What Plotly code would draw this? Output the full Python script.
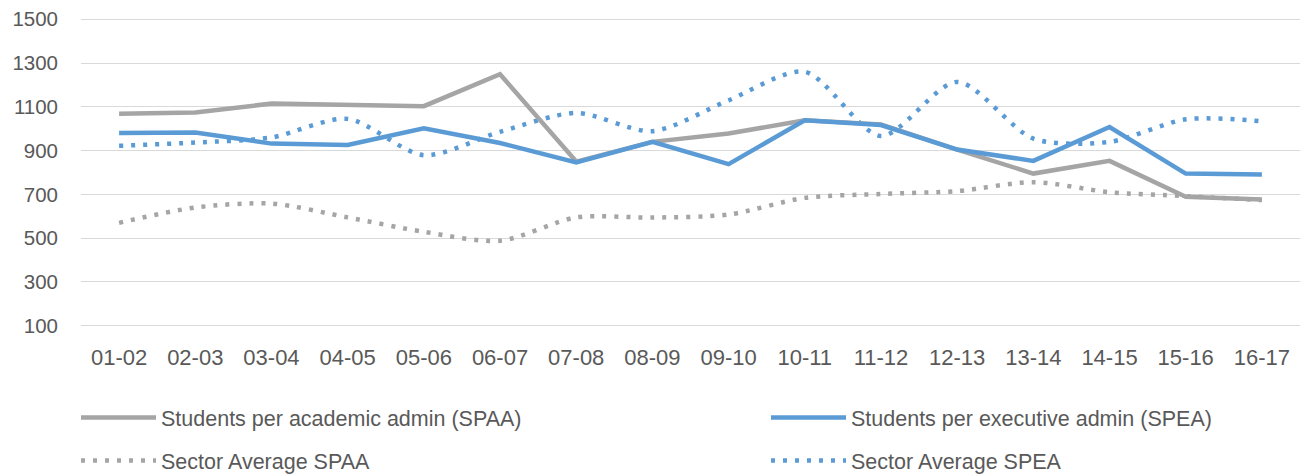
import plotly.graph_objects as go

years = ["01-02", "02-03", "03-04", "04-05", "05-06", "06-07", "07-08", "08-09",
         "09-10", "10-11", "11-12", "12-13", "13-14", "14-15", "15-16", "16-17"]
spaa = [1068, 1074, 1115, 1109, 1103, 1249, 850, 940, 978, 1039, 1020, 905, 795, 853, 689, 677]
spea = [981, 983, 932, 926, 1002, 935, 846, 940, 838, 1039, 1017, 905, 853, 1008, 795, 791]
sector_spaa = [570, 640, 658, 595, 529, 488, 595, 594, 608, 684, 702, 715, 756, 710, 692, 674]
sector_spea = [922, 937, 960, 1045, 879, 986, 1072, 989, 1130, 1260, 967, 1214, 955, 940, 1043, 1034]
y_ticks = [100, 300, 500, 700, 900, 1100, 1300, 1500]

GRAY = "#A5A5A5"
BLUE = "#5B9BD5"
TXT = "#595959"
FONT = "Liberation Sans"

W, H = 1307, 474

fig = go.Figure()
fig.add_trace(go.Scatter(x=years, y=sector_spaa, mode="lines", name="Sector Average SPAA",
                         line=dict(color=GRAY, width=4.5, dash="4px,8px", shape="spline", smoothing=0.8),
                         legend="legend", legendgroup="a2", legendrank=2))
fig.add_trace(go.Scatter(x=years, y=sector_spea, mode="lines", name="Sector Average SPEA",
                         line=dict(color=BLUE, width=4.5, dash="4px,8px", shape="spline", smoothing=0.8),
                         legend="legend2", legendgroup="b2", legendrank=2))
fig.add_trace(go.Scatter(x=years, y=spaa, mode="lines", name="Students per academic admin (SPAA)",
                         line=dict(color=GRAY, width=4.5), legend="legend", legendgroup="a1", legendrank=1))
fig.add_trace(go.Scatter(x=years, y=spea, mode="lines", name="Students per executive admin (SPEA)",
                         line=dict(color=BLUE, width=4.5), legend="legend2", legendgroup="b1", legendrank=1))

leg_common = dict(orientation="v", xref="container", yref="container", xanchor="left", yanchor="top",
                  font=dict(family=FONT, size=21.5, color=TXT), itemwidth=75,
                  tracegroupgap=12, bgcolor="rgba(0,0,0,0)", traceorder="grouped")

fig.update_layout(
    width=W, height=H,
    margin=dict(l=81, r=7, t=17.7, b=147, autoexpand=False),
    paper_bgcolor="white", plot_bgcolor="white",
    font=dict(family=FONT, size=20, color=TXT),
    xaxis=dict(type="category", range=[-0.5, 15.5], showgrid=False, zeroline=False,
               showline=False, ticks="", tickfont=dict(family=FONT, size=22, color=TXT),
               ticklabelstandoff=15, tickangle=0, automargin=False),
    yaxis=dict(range=[94, 1506], tickvals=y_ticks, showgrid=True, gridcolor="#D9D9D9",
               gridwidth=1.3, zeroline=False, showline=False, ticks="",
               tickfont=dict(family=FONT, size=20.5, color=TXT), ticklabelstandoff=22,
               automargin=False),
    legend=dict(x=76 / W, y=1 - 397 / H, **leg_common),
    legend2=dict(x=766 / W, y=1 - 397 / H, **leg_common),
    showlegend=True,
)

fig.write_html("out.html", config={"displayModeBar": False},
               post_script="document.body.style.margin='0';")
